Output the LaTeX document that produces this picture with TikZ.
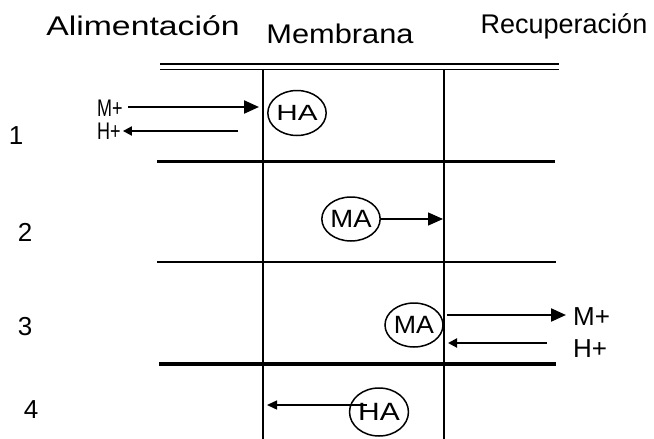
\documentclass[tikz,border=0pt]{standalone}
\usepackage{fontspec}
\setmainfont{Liberation Sans}
\usetikzlibrary{arrows.meta,shapes.geometric}
\begin{document}
\begin{tikzpicture}[x=1pt,y=-1pt,
  title/.style={font=\fontsize{27}{27}\selectfont, inner sep=0pt, anchor=base},
  rowlbl/.style={font=\fontsize{26}{26}\selectfont, inner sep=0pt},
  ionA/.style={font=\fontsize{24}{24}\selectfont, inner sep=0pt, anchor=base west},
  ionB/.style={font=\fontsize{26}{26}\selectfont, inner sep=0pt, anchor=base west},
  mol/.style={ellipse, draw, line width=1.5pt, minimum width=56pt, minimum height=45pt, inner sep=0pt, font=\fontsize{25}{25}\selectfont},
  wall/.style={line width=2pt},
  rule/.style={line width=1.3pt},
  bar/.style={line width=3pt},
  heavybar/.style={line width=4pt},
  bigflow/.style={line width=2.2pt, -{Triangle[length=15pt,width=13pt]}},
  thinbigflow/.style={line width=1.4pt, -{Triangle[length=15pt,width=13pt]}},
  smallflow/.style={line width=2pt, -{Triangle[length=9pt,width=9pt]}},
  thinsmallflow/.style={line width=1.4pt, -{Triangle[length=10pt,width=9pt]}},
]
\useasboundingbox (0,0) rectangle (654,439);

% titles
\node[title] (alim) at (143,35) {\scalebox{1.25}[1]{Alimentación}};
\node[title] (memb) at (340,43) {\scalebox{1.14}[1]{Membrana}};
\node[title] (recu) at (564,34) {Recuperación};

% frame lines
\coordinate (tl1) at (160,64);  \coordinate (tr1) at (559,64);
\coordinate (tl2) at (160,69.5);\coordinate (tr2) at (559,69.5);
\draw[line width=1.8pt] (tl1) -- (tr1);
\draw[line width=1.8pt] (tl2) -- (tr2);
\coordinate (wl) at (263,69);  \coordinate (wlb) at (263,439);
\coordinate (wr) at (444,69);  \coordinate (wrb) at (444,439);
\draw[wall] (wl) -- (wlb);
\draw[wall] (wr) -- (wrb);
\coordinate (h1l) at (157,161); \coordinate (h1r) at (555,161);
\coordinate (h2l) at (157,262); \coordinate (h2r) at (556,262);
\coordinate (h3l) at (159,364); \coordinate (h3r) at (556,364);
\draw[bar] (h1l) -- (h1r);
\draw[rule] (h2l) -- (h2r);
\draw[heavybar] (h3l) -- (h3r);

% row labels
\node[rowlbl] (r1) at (16,136) {1};
\node[rowlbl] (r2) at (25,232) {2};
\node[rowlbl] (r3) at (25,327) {3};
\node[rowlbl] (r4) at (31,410) {4};

% row 1
\node[ionA] (m1) at (97,116) {\scalebox{0.75}[1]{M+}};
\node[ionA] (hp1) at (97,139) {\scalebox{0.75}[1]{H+}};
\node[mol] (ha1) at (297,113) {\raisebox{-2pt}{\fontsize{22}{22}\selectfont\scalebox{1.35}[1]{HA}}};
\coordinate (m1s) at (128,107);
\coordinate (h1s) at (238,131);
\draw[bigflow] (m1s) -- ([xshift=-4pt]m1s -| wl);
\draw[smallflow] (h1s) -- ([xshift=2pt]h1s -| hp1.east);

% row 2
\node[mol, minimum width=54pt, minimum height=44pt] (ma2) at (351,219) {\raisebox{-3pt}{\scalebox{1.1}[1]{MA}}};
\draw[thinbigflow] (ma2.east) -- ([xshift=-1pt]ma2.east -| wr);

% row 3
\node[mol, minimum width=58pt, minimum height=44pt] (ma3) at (414,325) {\raisebox{-3pt}{\scalebox{1.07}[1]{MA}}};
\node[ionB] (m3) at (573,325) {M+};
\node[ionB] (hp3) at (573,357) {H+};
\coordinate (m3s) at (447,315);
\coordinate (h3s) at (547,343);
\draw[bigflow] (m3s) -- ([xshift=-7pt]m3s -| m3.west);
\draw[smallflow] (h3s) -- ([xshift=4pt]h3s -| wr);

% row 4
\node[mol, minimum width=58pt, minimum height=48pt] (ha4) at (379,412) {\raisebox{-6pt}{\scalebox{1.2}[1]{HA}}};
\coordinate (a4) at (367,405);
\draw[thinsmallflow] (a4) -- ([xshift=4pt]a4 -| wl);
\end{tikzpicture}
\end{document}
